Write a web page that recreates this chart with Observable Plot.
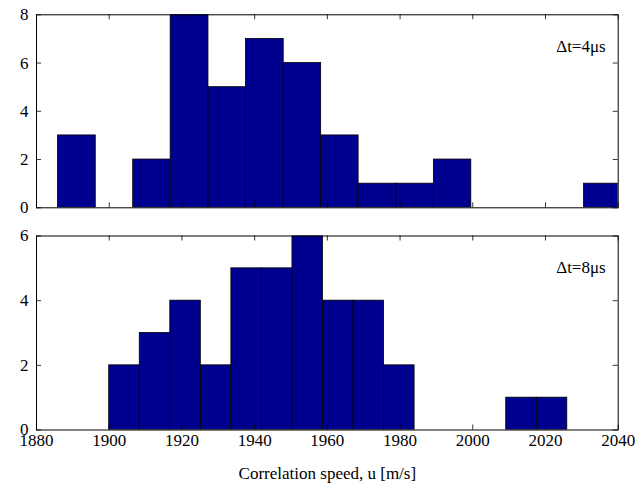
<!DOCTYPE html>
<html>
<head>
<meta charset="utf-8">
<script src="https://cdn.jsdelivr.net/npm/d3@7"></script>
<script src="https://cdn.jsdelivr.net/npm/@observablehq/plot@0.6"></script>
<style>
  html, body { margin: 0; padding: 0; background: #fff; }
  #chart { width: 644px; height: 490px; }
  #chart svg { display: block; background: #fff; max-width: none; }
</style>
</head>
<body>
<div id="chart"></div>
<script>
// ---- data ----
const topEdges    = [1885.9, 1896.3, 1906.6, 1916.9, 1927.3, 1937.6, 1948.0, 1958.3, 1968.6, 1979.0, 1989.3, 1999.6, 2010.0, 2020.3, 2030.6, 2040.9];
const topCounts   = [3, 0, 2, 8, 5, 7, 6, 3, 1, 1, 2, 0, 0, 0, 1];
const bottomEdges = [1900.0, 1908.4, 1916.8, 1925.2, 1933.6, 1942.0, 1950.4, 1958.8, 1967.2, 1975.6, 1984.0, 1992.4, 2000.8, 2009.2, 2017.6, 2026.0];
const bottomCounts= [2, 3, 4, 2, 5, 5, 6, 4, 4, 2, 0, 0, 0, 1, 1];
const xDomain = [1880, 2040];
const xTicks = [1880, 1900, 1920, 1940, 1960, 1980, 2000, 2020, 2040];
const yTicksTop = [0, 2, 4, 6, 8];
const yTicksBottom = [0, 2, 4, 6];
const topLabel = ["\u0394t=4\u03bcs"];
const bottomLabel = ["\u0394t=8\u03bcs"];
const xLabel = ["Correlation speed, u [m/s]"];

const bars = (edges, counts) => counts.map((c, i) => ({x1: edges[i], x2: edges[i + 1], y: c}));

const W = 644;
const mL = 36, mR = 26.3;
const innerW = W - mL - mR;
const tick = 5;
const fill = "#00008f";
const FF = "Liberation Serif, serif";
const FS = 17;

function panel({edges, counts, yMax, yTicks, label, height, mT, mB, showX}) {
  const innerH = height - mT - mB;
  const marks = [
    Plot.rectY(bars(edges, counts), {x1: "x1", x2: "x2", y: "y", fill, stroke: "black", strokeWidth: 0.8, clip: true}),
    Plot.frame({stroke: "black", strokeWidth: 1}),
    // inward ticks on all four sides
    Plot.ruleX(xTicks, {x: d => d, insetTop: innerH - tick, stroke: "black", strokeWidth: 0.8}),
    Plot.ruleX(xTicks, {x: d => d, insetBottom: innerH - tick, stroke: "black", strokeWidth: 0.8}),
    Plot.ruleY(yTicks, {y: d => d, insetRight: innerW - tick, stroke: "black", strokeWidth: 0.8}),
    Plot.ruleY(yTicks, {y: d => d, insetLeft: innerW - tick, stroke: "black", strokeWidth: 0.8}),
    Plot.axisY(yTicks, {anchor: "left", tickSize: 0, tickPadding: 8, label: null, fill: "black", fontFamily: FF, fontSize: FS}),
    Plot.text(label, {frameAnchor: "top-right", textAnchor: "end", dx: -12.5, dy: 25, fill: "black", fontFamily: FF, fontSize: FS})
  ];
  if (showX) {
    marks.push(Plot.axisX(xTicks, {anchor: "bottom", tickSize: 0, tickPadding: 4, label: null, fill: "black", fontFamily: FF, fontSize: FS, tickFormat: d => String(d)}));
    marks.push(Plot.text(xLabel, {frameAnchor: "bottom", dy: 48.5, fill: "black", fontFamily: FF, fontSize: FS}));
  }
  return Plot.plot({
    width: W, height,
    marginLeft: mL, marginRight: mR, marginTop: mT, marginBottom: mB,
    style: {fontFamily: FF, fontSize: FS + "px", maxWidth: "none"},
    x: {domain: xDomain, axis: null},
    y: {domain: [0, yMax], axis: null},
    marks
  });
}

const chart = document.getElementById("chart");
chart.append(panel({edges: topEdges, counts: topCounts, yMax: 8, yTicks: yTicksTop, label: topLabel, height: 222, mT: 14.3, mB: 14.7, showX: false}));
chart.append(panel({edges: bottomEdges, counts: bottomCounts, yMax: 6, yTicks: yTicksBottom, label: bottomLabel, height: 268, mT: 13.5, mB: 60.5, showX: true}));
</script>
</body>
</html>
